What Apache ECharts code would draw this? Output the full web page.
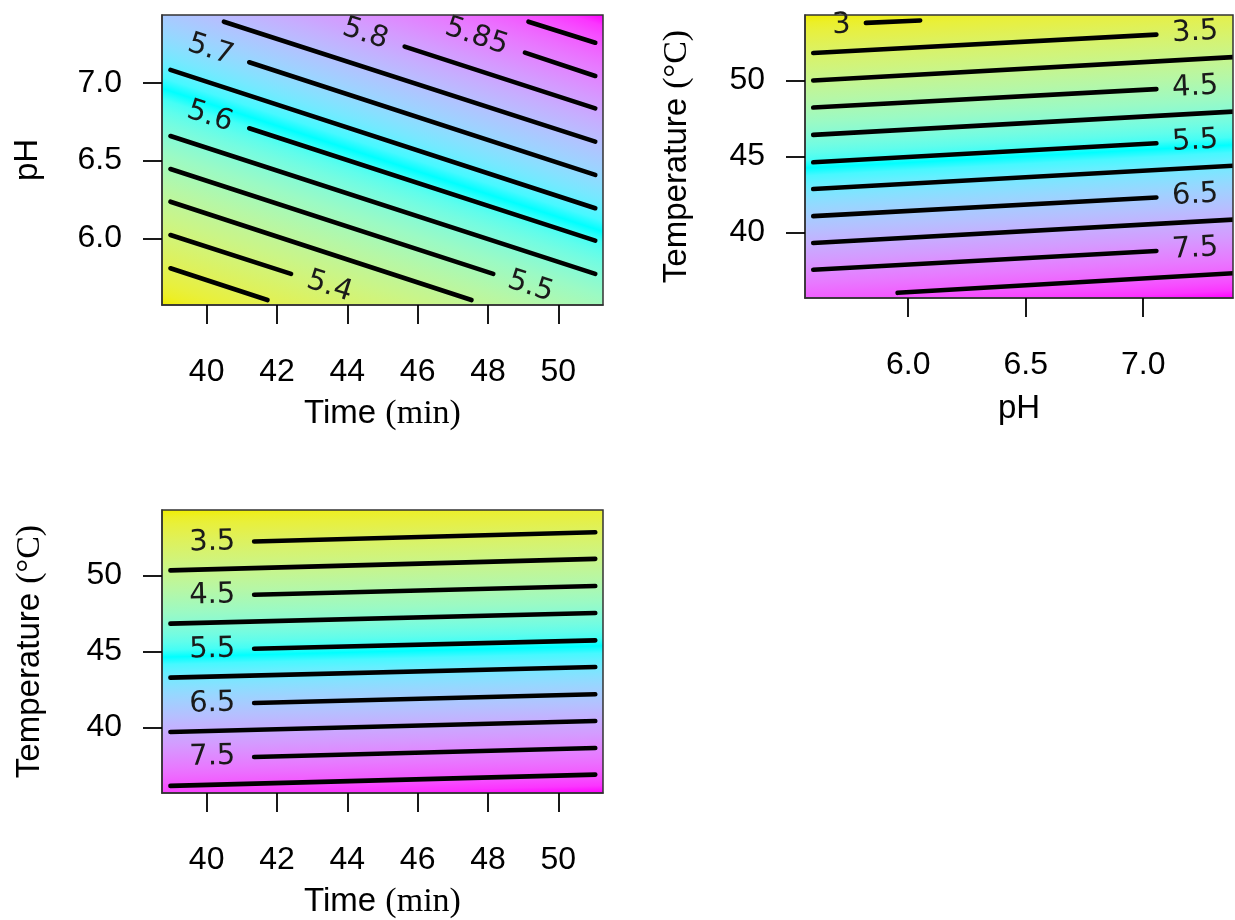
<!DOCTYPE html>
<html>
<head>
<meta charset="utf-8">
<title>Response surface contours</title>
<script src="https://cdn.jsdelivr.net/npm/echarts@6/dist/echarts.min.js"></script>
<style>
html, body { margin: 0; padding: 0; background: #fff; }
#main { width: 1235px; height: 920px; }
</style>
</head>
<body>
<div id="main"></div>
<script>
// tick values
var timeTicks = [40, 42, 44, 46, 48, 50];
var phTicks = [6.0, 6.5, 7.0];
var tempTicks = [40, 45, 50];

// panel 1: pH vs Time (min)
var p1Levels = [5.35, 5.4, 5.45, 5.5, 5.55, 5.6, 5.65, 5.7, 5.75, 5.8, 5.85, 5.9];
var p1From = [[38.97, 5.807], [38.97, 6.021], [38.97, 6.235], [38.97, 6.445], [38.97, 6.657], [41.21, 6.707],
              [38.97, 7.082], [41.21, 7.131], [40.49, 7.392], [45.63, 7.232], [49.05, 7.193], [49.15, 7.392]];
var p1To = [[41.73, 5.603], [42.40, 5.771], [47.53, 5.603], [48.15, 5.771], [51.05, 5.771], [51.05, 5.985],
            [51.05, 6.193], [51.05, 6.407], [51.05, 6.621], [51.05, 6.835], [51.05, 7.043], [51.05, 7.257]];
var p1LabelLine = [1, 3, 5, 7, 9, 10];
var p1LabelAt = [[43.49, 5.689], [49.21, 5.689], [40.09, 6.781], [40.11, 7.21], [44.51, 7.313], [47.67, 7.296]];

// panel 2: Temperature vs pH
var p2Levels = [3, 3.5, 4, 4.5, 5, 5.5, 6, 6.5, 7, 7.5, 8];
var p2From = [[5.820, 53.78], [5.596, 51.805], [5.596, 50.0], [5.596, 48.22], [5.596, 46.42], [5.596, 44.62],
              [5.596, 42.86], [5.596, 41.08], [5.596, 39.32], [5.596, 37.56], [5.955, 36.04]];
var p2To = [[6.051, 53.94], [7.056, 53.01], [7.396, 51.54], [7.056, 49.43], [7.396, 47.96], [7.056, 45.87],
            [7.396, 44.40], [7.056, 42.31], [7.396, 40.86], [7.056, 38.79], [7.396, 37.34]];
var p2LabelLine = [0, 1, 3, 5, 7, 9];
var p2LabelAt = [[5.716, 53.62], [7.221, 53.15], [7.221, 49.55], [7.221, 46.0], [7.221, 42.45], [7.221, 38.92]];

// panel 3: Temperature vs Time (min)
var p3Levels = [3.5, 4, 4.5, 5, 5.5, 6, 6.5, 7, 7.5, 8];
var p3From = [[41.35, 52.23], [38.97, 50.33], [41.35, 48.73], [38.97, 46.83], [41.35, 45.18],
              [38.97, 43.28], [41.35, 41.62], [38.97, 39.71], [41.35, 38.07], [38.97, 36.17]];
var p3To = [[51.05, 52.84], [51.05, 51.09], [51.05, 49.30], [51.05, 47.53], [51.05, 45.73],
            [51.05, 43.98], [51.05, 42.19], [51.05, 40.43], [51.05, 38.66], [51.05, 36.91]];
var p3LabelLine = [0, 2, 4, 6, 8];
var p3LabelAt = [[40.16, 52.17], [40.16, 48.69], [40.16, 45.13], [40.16, 41.57], [40.16, 38.07]];

// colour ramp yellow -> cyan -> magenta, interpolated in Lab
var rampColors = ['#f0ee00', '#00ffff', '#ff00ff'];

function hexToLab(hex) {
    var c = [parseInt(hex.substr(1, 2), 16) / 255, parseInt(hex.substr(3, 2), 16) / 255, parseInt(hex.substr(5, 2), 16) / 255];
    var lin = c.map(function (v) { return v <= 0.04045 ? v / 12.92 : Math.pow((v + 0.055) / 1.055, 2.4); });
    var X = (0.4124 * lin[0] + 0.3576 * lin[1] + 0.1805 * lin[2]) / 0.95047;
    var Y = (0.2126 * lin[0] + 0.7152 * lin[1] + 0.0722 * lin[2]);
    var Z = (0.0193 * lin[0] + 0.1192 * lin[1] + 0.9505 * lin[2]) / 1.08883;
    var f = function (t) { return t > 0.008856 ? Math.cbrt(t) : 7.787 * t + 16 / 116; };
    return [116 * f(Y) - 16, 500 * (f(X) - f(Y)), 200 * (f(Y) - f(Z))];
}
function labToRgb(lab) {
    var fy = (lab[0] + 16) / 116, fx = fy + lab[1] / 500, fz = fy - lab[2] / 200;
    var g = function (t) { return t > 0.206893 ? t * t * t : (t - 16 / 116) / 7.787; };
    var X = g(fx) * 0.95047, Y = g(fy), Z = g(fz) * 1.08883;
    var rgb = [3.2406 * X - 1.5372 * Y - 0.4986 * Z, -0.9689 * X + 1.8758 * Y + 0.0415 * Z, 0.0557 * X - 0.2040 * Y + 1.0570 * Z];
    rgb = rgb.map(function (v) {
        v = v <= 0.0031308 ? 12.92 * v : 1.055 * Math.pow(Math.max(v, 0), 1 / 2.4) - 0.055;
        return Math.round(Math.min(1, Math.max(0, v)) * 255);
    });
    return 'rgb(' + rgb.join(',') + ')';
}
var rampLab = rampColors.map(hexToLab);
function rampColor(t) {
    var seg = t < 0.5 ? 0 : 1;
    var u = t < 0.5 ? t * 2 : (t - 0.5) * 2;
    var a = rampLab[seg], b = rampLab[seg + 1];
    return labToRgb([a[0] + (b[0] - a[0]) * u, a[1] + (b[1] - a[1]) * u, a[2] + (b[2] - a[2]) * u]);
}

// background: colour ramp running across the contour lines, over the plot box
function renderBackground(params, api, from, to) {
    if (params.dataIndex !== 0) return null;
    var cs = params.coordSys;
    var dx = 0, dy = 0;
    for (var i = 0; i < from.length; i++) {
        var a = api.coord(from[i]), b = api.coord(to[i]);
        var vx = b[0] - a[0], vy = b[1] - a[1], len = Math.sqrt(vx * vx + vy * vy);
        dx += vx / len; dy += vy / len;
    }
    var l = Math.sqrt(dx * dx + dy * dy);
    var nx = -dy / l, ny = dx / l;
    var f0 = api.coord(from[0]), f1 = api.coord(from[from.length - 1]);
    if ((f1[0] - f0[0]) * nx + (f1[1] - f0[1]) * ny < 0) { nx = -nx; ny = -ny; }
    var corners = [[cs.x, cs.y], [cs.x + cs.width, cs.y], [cs.x, cs.y + cs.height], [cs.x + cs.width, cs.y + cs.height]];
    var smin = Infinity, smax = -Infinity, c0 = corners[0];
    corners.forEach(function (c) {
        var s = c[0] * nx + c[1] * ny;
        if (s < smin) { smin = s; c0 = c; }
        if (s > smax) smax = s;
    });
    var stops = [];
    for (var k = 0; k <= 40; k++) stops.push({offset: k / 40, color: rampColor(k / 40)});
    return {
        type: 'rect',
        shape: {x: cs.x, y: cs.y, width: cs.width, height: cs.height},
        style: {
            fill: {type: 'linear', x: c0[0], y: c0[1], x2: c0[0] + nx * (smax - smin), y2: c0[1] + ny * (smax - smin), colorStops: stops, global: true}
        }
    };
}

function renderSegment(params, api) {
    var a = api.coord([api.value(0), api.value(1)]);
    var b = api.coord([api.value(2), api.value(3)]);
    return {
        type: 'line',
        shape: {x1: a[0], y1: a[1], x2: b[0], y2: b[1]},
        style: {stroke: '#000', lineWidth: 4.6, lineCap: 'round'}
    };
}

function panelSeries(idx, levels, from, to, labelLine, labelAt) {
    var segs = [];
    for (var i = 0; i < from.length; i++) segs.push([from[i][0], from[i][1], to[i][0], to[i][1]]);
    var labs = [];
    for (var j = 0; j < labelAt.length; j++) labs.push([labelAt[j][0], labelAt[j][1], labelLine[j]]);
    return [{
        type: 'custom', xAxisIndex: idx, yAxisIndex: idx, z: 1, silent: true,
        data: segs, encode: {x: [0, 2], y: [1, 3]},
        renderItem: function (params, api) { return renderBackground(params, api, from, to); }
    }, {
        type: 'custom', xAxisIndex: idx, yAxisIndex: idx, z: 3, silent: true, clip: true,
        data: segs, encode: {x: [0, 2], y: [1, 3]},
        renderItem: renderSegment
    }, {
        type: 'custom', xAxisIndex: idx, yAxisIndex: idx, z: 4, silent: true,
        data: labs, encode: {x: 0, y: 1},
        renderItem: function (params, api) {
            var p = api.coord([api.value(0), api.value(1)]);
            var k = api.value(2);
            var a = api.coord(from[k]), b = api.coord(to[k]);
            var ang = Math.atan2(b[1] - a[1], b[0] - a[0]);
            return {
                type: 'text', x: p[0], y: p[1], rotation: -ang,
                style: {
                    text: String(levels[k]), fill: '#1a1a1a', fontSize: 29, fontFamily: 'DejaVu Sans',
                    align: 'center', verticalAlign: 'middle', textAlign: 'center', textVerticalAlign: 'middle'
                }
            };
        }
    }];
}

var nameRich = {
    s: {fontFamily: 'Liberation Sans', fontSize: 33, color: '#000', lineHeight: 36},
    r: {fontFamily: 'Liberation Serif', fontSize: 34, color: '#000', lineHeight: 36}
};

function makeAxis(gridIndex, min, max, ticks, digits, name, gap, isY) {
    return {
        type: 'value', gridIndex: gridIndex, min: min, max: max, z: 6,
        name: name, nameLocation: 'middle', nameGap: gap, nameRotate: isY ? 90 : 0,
        nameTextStyle: {rich: nameRich},
        axisLine: {show: true, onZero: false, lineStyle: {color: '#333', width: 1.5}},
        axisTick: {show: true, length: 19, customValues: ticks, lineStyle: {color: '#000', width: 1.8}},
        axisLabel: {
            customValues: ticks, margin: isY ? 40 : 51, color: '#000', fontSize: 32, fontFamily: 'Liberation Sans',
            formatter: function (v) { return v.toFixed(digits); }
        },
        splitLine: {show: false}
    };
}

var gridStyle = {show: true, backgroundColor: 'transparent', borderColor: '#333', borderWidth: 1.5, z: 5};

var option = {
    backgroundColor: '#fff',
    animation: false,
    grid: [
        Object.assign({left: 162, top: 15, width: 441, height: 290}, gridStyle),
        Object.assign({left: 805, top: 15, width: 428, height: 283}, gridStyle),
        Object.assign({left: 162, top: 510, width: 441, height: 283}, gridStyle)
    ],
    xAxis: [
        makeAxis(0, 38.73, 51.27, timeTicks, 0, '{s|Time }{r|(min)}', 91, false),
        makeAxis(1, 5.561, 7.382, phTicks, 1, '{s|pH}', 93, false),
        makeAxis(2, 38.73, 51.27, timeTicks, 0, '{s|Time }{r|(min)}', 91, false)
    ],
    yAxis: [
        makeAxis(0, 5.571, 7.435, phTicks, 1, '{s|pH}', 116, true),
        makeAxis(1, 35.7, 54.3, tempTicks, 0, '{s|Temperature }{r|(°C)}', 110, true),
        makeAxis(2, 35.7, 54.3, tempTicks, 0, '{s|Temperature }{r|(°C)}', 114, true)
    ],
    series: [].concat(
        panelSeries(0, p1Levels, p1From, p1To, p1LabelLine, p1LabelAt),
        panelSeries(1, p2Levels, p2From, p2To, p2LabelLine, p2LabelAt),
        panelSeries(2, p3Levels, p3From, p3To, p3LabelLine, p3LabelAt)
    )
};

var chart = echarts.init(document.getElementById('main'), null, {renderer: 'canvas'});
chart.setOption(option);
</script>
</body>
</html>
